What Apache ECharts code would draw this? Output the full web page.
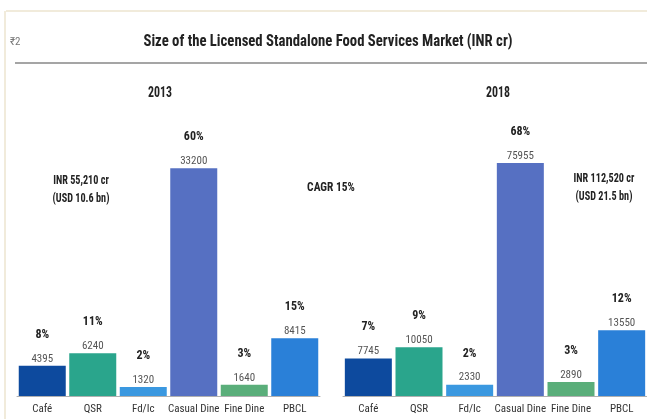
<!DOCTYPE html>
<html>
<head>
<meta charset="utf-8">
<script src="https://cdn.jsdelivr.net/npm/echarts@6/dist/echarts.min.js"></script>
<style>
html,body{margin:0;padding:0;background:#fff;}
#c{width:647px;height:419px;}
</style>
</head>
<body>
<div id="c"></div>
<script>
const categories = ['Café', 'QSR', 'Fd/Ic', 'Casual Dine', 'Fine Dine', 'PBCL'];
const values2013 = [4395, 6240, 1320, 33200, 1640, 8415];
const share2013 = [8, 11, 2, 60, 3, 15];
const values2018 = [7745, 10050, 2330, 75955, 2890, 13550];
const share2018 = [7, 9, 2, 68, 3, 12];
const barColors = ['#0d4a9e', '#2aa58c', '#3a98e0', '#5670c2', '#5aae7a', '#2a80d8'];
const FONT = '"Roboto Condensed", "Open Sans Condensed", "Liberation Sans", sans-serif';

const chart = echarts.init(document.getElementById('c'));

function makeLabel(shares) {
  return {
    show: true,
    position: 'top',
    distance: 1,
    fontFamily: FONT,
    formatter: p => '{p|' + shares[p.dataIndex] + '%}\n{v|' + p.value + '}',
    rich: {
      p: { fontFamily: FONT, fontWeight: 'bold', fontSize: 12, color: '#222', lineHeight: 36 },
      v: { fontFamily: FONT, fontSize: 11, color: '#555', lineHeight: 12 }
    }
  };
}

function xAxis(gi) {
  return {
    type: 'category', gridIndex: gi, data: categories,
    axisLine: { lineStyle: { color: '#b0b0b0', width: 1 } },
    axisTick: { show: false },
    axisLabel: { fontFamily: FONT, fontSize: 11, color: '#333', margin: 8, interval: 0 }
  };
}

function txt(x, y, text, size, sx, extra) {
  return Object.assign({
    type: 'text', x: x, y: y, scaleX: sx,
    style: { text: text, font: 'bold ' + size + 'px ' + FONT, fill: '#222', textAlign: 'center', textVerticalAlign: 'middle', lineHeight: 18 }
  }, extra || {});
}

chart.setOption({
  animation: false,
  grid: [
    { left: 17, width: 303, top: 156, bottom: 23 },
    { left: 343, width: 304, top: 163, bottom: 23 }
  ],
  xAxis: [xAxis(0), xAxis(1)],
  yAxis: [
    { type: 'value', gridIndex: 0, min: 0, max: 35000, show: false, splitLine: { show: false } },
    { type: 'value', gridIndex: 1, min: 0, max: 48000, show: false, splitLine: { show: false } }
  ],
  series: [
    {
      type: 'bar', xAxisIndex: 0, yAxisIndex: 0, data: values2013, barWidth: 47,
      itemStyle: { color: p => barColors[p.dataIndex] },
      label: makeLabel(share2013)
    },
    {
      type: 'bar', xAxisIndex: 1, yAxisIndex: 1, data: values2018, barWidth: 47, clip: true,
      itemStyle: { color: p => barColors[p.dataIndex] },
      label: makeLabel(share2018)
    }
  ],
  graphic: [
    { type: 'line', shape: { x1: 6, y1: 11, x2: 647, y2: 11 }, style: { stroke: '#ece5cf', lineWidth: 1.5 } },
    { type: 'line', shape: { x1: 5, y1: 11, x2: 5, y2: 419 }, style: { stroke: '#ece5cf', lineWidth: 1.5 } },
    { type: 'line', shape: { x1: 15, y1: 63, x2: 647, y2: 63 }, style: { stroke: '#a5a5a5', lineWidth: 2 } },
    { type: 'text', x: 10, y: 37, style: { text: '₹2', font: '11px ' + FONT, fill: '#777' } },
    txt(328, 42, 'Size of the Licensed Standalone Food Services Market (INR cr)', 16, 0.92),
    txt(160, 93, '2013', 14, 0.85),
    txt(498, 93, '2018', 14, 0.85),
    txt(81, 190, 'INR 55,210 cr\n(USD 10.6 bn)', 12, 0.85),
    txt(604, 188, 'INR 112,520 cr\n(USD 21.5 bn)', 12, 0.85),
    txt(331, 188, 'CAGR 15%', 13, 0.88)
  ]
});
</script>
</body>
</html>
